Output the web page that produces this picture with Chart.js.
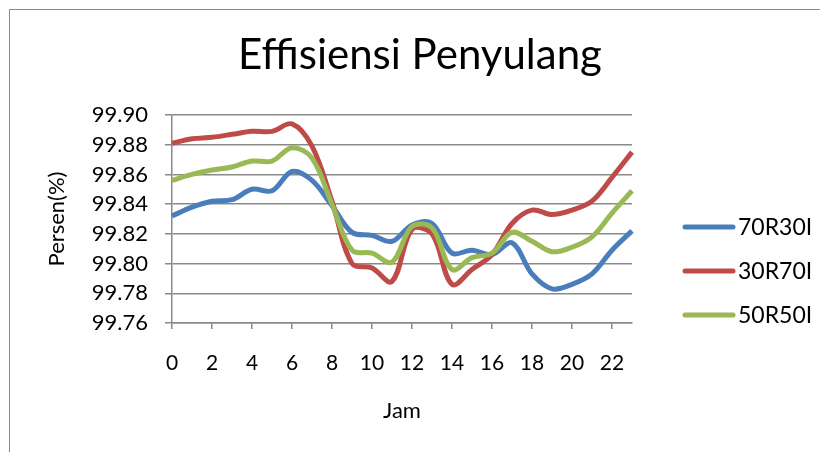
<!DOCTYPE html>
<html>
<head>
<meta charset="utf-8">
<script src="https://cdn.jsdelivr.net/npm/chart.js@4"></script>
<style>
  body { margin: 0; background: #fff; }
  #wrap { position: relative; width: 820px; height: 452px; overflow: hidden; }
  #frame { position: absolute; left: 9px; top: 9px; width: 900px; height: 500px; border: 1.5px solid #8a8a8a; }
  #chart { position: absolute; left: 0; top: 0; }
</style>
</head>
<body>
<div id="wrap">
  <div id="frame"></div>
  <canvas id="chart" width="820" height="452"></canvas>
</div>
<script>
const hours = ["0","1","2","3","4","5","6","7","8","9","10","11","12","13","14","15","16","17","18","19","20","21","22","23"];

const r70i30 = [99.832, 99.838, 99.842, 99.843, 99.850, 99.849, 99.862, 99.856, 99.839, 99.821, 99.819, 99.815,
                99.826, 99.827, 99.807, 99.809, 99.806, 99.814, 99.793, 99.783, 99.786, 99.793, 99.809, 99.822];
const r30i70 = [99.881, 99.884, 99.885, 99.887, 99.889, 99.889, 99.894, 99.879, 99.842, 99.800, 99.797, 99.788,
                99.823, 99.820, 99.786, 99.796, 99.806, 99.827, 99.836, 99.833, 99.836, 99.842, 99.858, 99.875];
const r50i50 = [99.856, 99.860, 99.863, 99.865, 99.869, 99.869, 99.878, 99.871, 99.840, 99.809, 99.807, 99.801,
                99.825, 99.824, 99.796, 99.804, 99.807, 99.821, 99.815, 99.808, 99.811, 99.818, 99.834, 99.849];

const seriesNames = ["70R30I", "30R70I", "50R50I"];
const seriesColors = ["#4a7ebb", "#be4b48", "#98b954"];
const yMin = 99.76, yMax = 99.90, yStep = 0.02;

const FONT = "Lato, 'Open Sans', sans-serif";
const gridGray = "#8a8a8a";

// legend drawn by hand, right of the plot
const sideLegend = {
    id: "sideLegend",
    afterDraw(chart) {
        const ctx = chart.ctx;
        ctx.save();
        chart.data.datasets.forEach((ds, i) => {
            const y = 227 + i * 44;
            ctx.strokeStyle = ds.borderColor;
            ctx.lineWidth = 5;
            ctx.lineCap = "round";
            ctx.beginPath();
            ctx.moveTo(685, y);
            ctx.lineTo(733, y);
            ctx.stroke();
            ctx.fillStyle = "#000";
            ctx.font = "23px " + FONT;
            ctx.textBaseline = "middle";
            ctx.fillText(ds.label, 738, y + 1);
        });
        ctx.restore();
    }
};

const datasets = [r70i30, r30i70, r50i50].map((vals, i) => ({
    label: seriesNames[i],
    data: vals,
    borderColor: seriesColors[i],
    backgroundColor: seriesColors[i],
    borderWidth: 5,
    pointRadius: 0,
    tension: 0.35,
    order: 3 - i
}));

new Chart(document.getElementById("chart"), {
    type: "line",
    data: { labels: hours, datasets: datasets },
    options: {
        responsive: false,
        animation: false,
        layout: { padding: { left: 20, right: 0, top: 0, bottom: 0 } },
        plugins: {
            legend: { display: false },
            tooltip: { enabled: false },
            title: {
                display: true,
                text: "Effisiensi Penyulang",
                color: "#000",
                font: { family: FONT, size: 42, weight: "normal", lineHeight: 1.2 },
                padding: { top: 30, bottom: 34.6 }
            }
        },
        scales: {
            x: {
                offset: false,
                afterFit(scale) { scale.height = 129; },
                border: { display: true, color: gridGray, width: 1.5 },
                grid: {
                    drawOnChartArea: false,
                    drawTicks: true,
                    tickLength: 6,
                    lineWidth: 1.5,
                    color: c => (c.index % 2 === 0 ? gridGray : "rgba(0,0,0,0)")
                },
                ticks: {
                    autoSkip: false,
                    maxRotation: 0,
                    padding: 22,
                    color: "#000",
                    font: { family: FONT, size: 21 },
                    callback: (v, i) => (i % 2 === 0 ? hours[i] : "")
                },
                title: {
                    display: true,
                    text: "Jam",
                    color: "#000",
                    font: { family: FONT, size: 22, lineHeight: 1.2 },
                    padding: { top: 0, bottom: 28 }
                }
            },
            y: {
                min: yMin,
                max: yMax,
                afterFit(scale) { scale.width = 152; },
                border: { display: true, color: gridGray, width: 1.5 },
                grid: { color: gridGray, lineWidth: 1.5, tickLength: 7 },
                ticks: {
                    stepSize: yStep,
                    padding: 17,
                    color: "#000",
                    font: { family: FONT, size: 22 },
                    callback: v => v.toFixed(2)
                },
                title: {
                    display: true,
                    text: "Persen(%)",
                    color: "#000",
                    font: { family: FONT, size: 22, lineHeight: 1.2 },
                    padding: { top: 24, bottom: 0 }
                }
            },
            // empty right-hand axis that only reserves room for the legend
            side: {
                type: "linear",
                position: "right",
                afterFit(scale) { scale.width = 188; },
                border: { display: false },
                grid: { display: false, drawTicks: false },
                ticks: { display: false }
            }
        }
    },
    plugins: [sideLegend]
});
</script>
</body>
</html>
